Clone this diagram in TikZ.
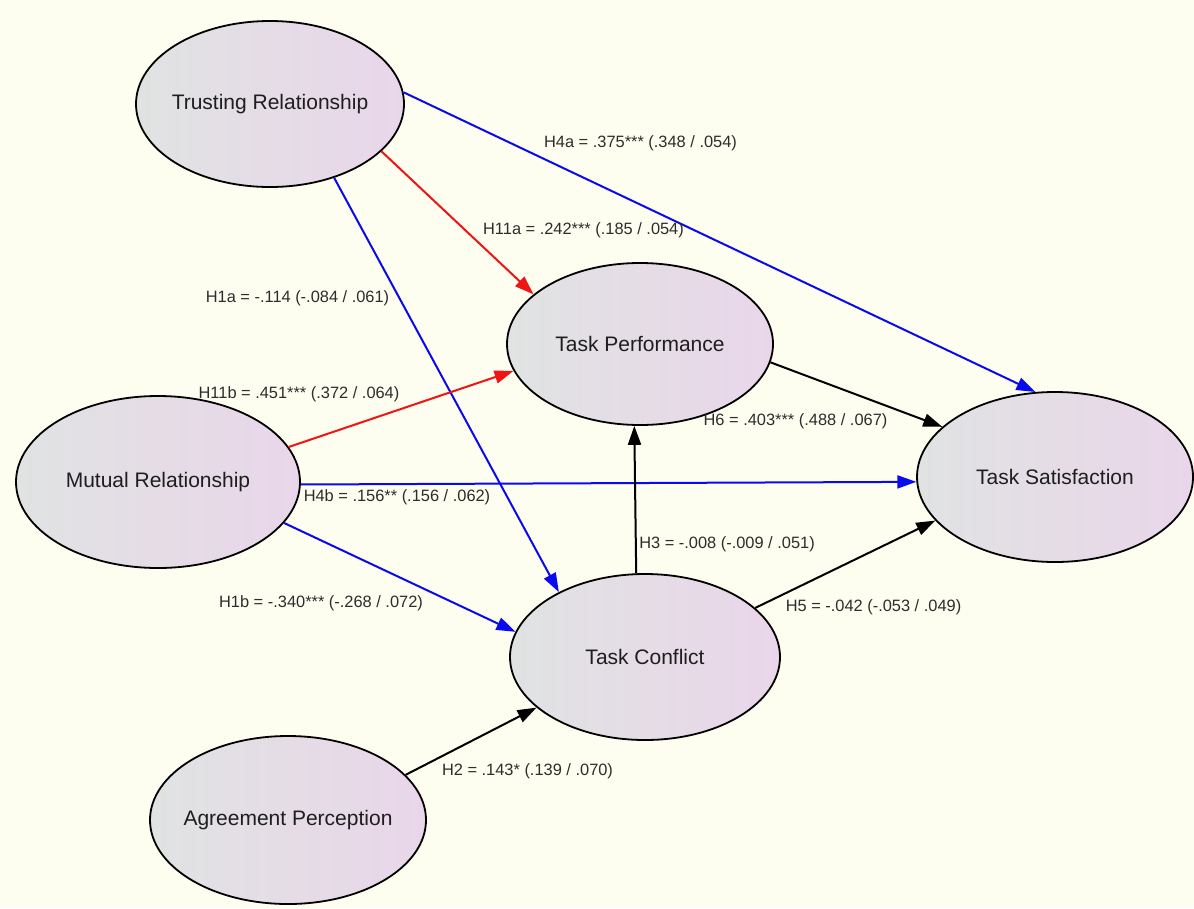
\documentclass[tikz,border=0pt]{standalone}
\usepackage{fontspec}
\setmainfont{Liberation Sans}
\usetikzlibrary{shapes.geometric,arrows.meta}
\definecolor{bgc}{RGB}{253,253,240}
\definecolor{shl}{RGB}{224,227,226}
\definecolor{shr}{RGB}{233,214,234}
\definecolor{txt}{RGB}{30,30,30}
\definecolor{lbl}{RGB}{45,45,45}
\definecolor{eblue}{RGB}{10,10,240}
\definecolor{ered}{RGB}{240,20,20}
\begin{document}
\begin{tikzpicture}[x=1pt,y=-1pt,
  construct/.style={ellipse, draw=black, line width=1.8pt, left color=shl, right color=shr,
    inner xsep=-40pt, inner ysep=0pt, font=\fontsize{21}{24}\selectfont, text=txt},
  link/.style={line width=2pt, -{Triangle[length=19pt,width=13pt]}},
  lab/.style={font=\fontsize{16.4}{19}\selectfont, text=lbl, inner sep=0pt}]
\fill[bgc] (0,0) rectangle (1194,908);
\useasboundingbox (0,0) rectangle (1194,908);

\node[construct, minimum width=268pt, minimum height=166pt] (tr) at (270,104) {Trusting Relationship};
\node[construct, minimum width=266pt, minimum height=162pt] (tp) at (640,344) {Task Performance};
\node[construct, minimum width=284pt, minimum height=172pt] (mr) at (158,482) {Mutual Relationship};
\node[construct, minimum width=276pt, minimum height=170pt] (ts) at (1055,477) {Task Satisfaction};
\node[construct, minimum width=270pt, minimum height=166pt] (tc) at (645,657) {Task Conflict};
\node[construct, minimum width=276pt, minimum height=168pt] (ap) at (288,820) {Agreement Perception};

\draw[link, eblue] (tr.5.2) -- (ts.103.2);
\draw[link, ered] (tr.337.8) -- (tp.155.4);
\draw[link, eblue] (tr.311.7) -- (tc.143.3);
\draw[link, ered] (mr.15.4) -- (tp.192);
\draw[link, eblue] (mr.359.6) -- (ts.182.5);
\draw[link, eblue] (mr.342.1) -- (tc.169.1);
\draw[link] (tp.352.1) -- (ts.156.6);
\draw[link] (tc.96.9) -- (tp.266.5);
\draw[link] (tc.24.8) -- (ts.200.9);
\draw[link] (ap.21) -- (tc.205.9);

\node[lab] (l4a) at (640.5,143) {H4a = .375*** (.348 / .054)};
\node[lab] (l11a) at (583.5,230) {H11a = .242*** (.185 / .054)};
\node[lab] (l1a) at (297.5,298) {H1a = -.114 (-.084 / .061)};
\node[lab] (l11b) at (299,394) {H11b = .451*** (.372 / .064)};
\node[lab] (l6) at (795.5,421) {H6 = .403*** (.488 / .067)};
\node[lab] (l4b) at (397,497) {H4b = .156** (.156 / .062)};
\node[lab] (l3) at (727,544) {H3 = -.008 (-.009 / .051)};
\node[lab] (l1b) at (321,603) {H1b = -.340*** (-.268 / .072)};
\node[lab] (l5) at (873.5,607) {H5 = -.042 (-.053 / .049)};
\node[lab] (l2) at (527.5,771) {H2 = .143* (.139 / .070)};
\end{tikzpicture}
\end{document}
